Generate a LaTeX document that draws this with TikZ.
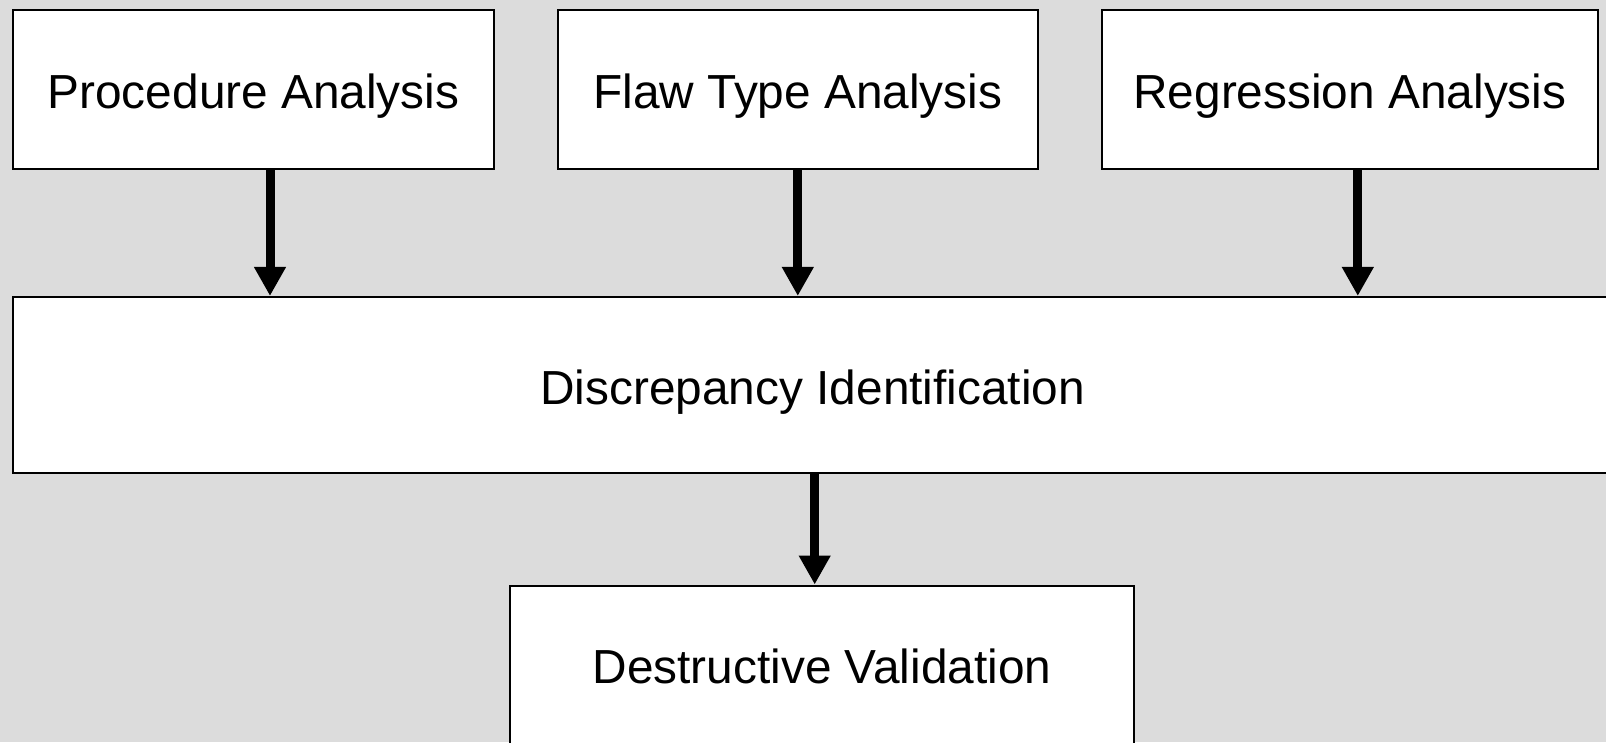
\documentclass[tikz,border=0pt]{standalone}
\usepackage{fontspec}
\setmainfont{Liberation Sans}
\usetikzlibrary{arrows.meta}
\definecolor{bg}{RGB}{220,220,220}
\tikzset{
  box/.style={draw=black, fill=white, line width=2pt, rectangle, inner sep=0pt,
    font=\fontsize{47.8}{56}\selectfont, text height=38.4pt, text depth=0pt},
  flow/.style={line width=9pt, -{Triangle[width=30pt,length=29pt]}}
}
\begin{document}
\begin{tikzpicture}[x=1pt,y=-1pt]
\useasboundingbox (0,0) rectangle (1606,742);
\clip (0,0) rectangle (1606,742);
\fill[bg] (0,0) rectangle (1606,742);
\node[box, minimum width=480.2pt, minimum height=158.8pt] (proc) at (253.5,89.6) {Procedure Analysis};
\node[box, minimum width=479.5pt, minimum height=158.8pt] (flaw) at (797.8,89.6) {Flaw Type Analysis};
\node[box, minimum width=495.8pt, minimum height=158.8pt] (regr) at (1349.9,89.6) {Regression Analysis};
\node[box, minimum width=1598.6pt, minimum height=176.5pt] (disc) at (812.7,385.2) {Discrepancy Identification};
\node[box, minimum width=624pt, minimum height=158pt] (dest) at (822,664.5) {Destructive Validation};
\coordinate (a1) at (270,0);
\coordinate (a2) at (797.8,0);
\coordinate (a3) at (1357.8,0);
\coordinate (a4) at (814.7,0);
\draw[flow] (proc.south -| a1) -- (disc.north -| a1);
\draw[flow] (flaw.south -| a2) -- (disc.north -| a2);
\draw[flow] (regr.south -| a3) -- (disc.north -| a3);
\draw[flow] (disc.south -| a4) -- (dest.north -| a4);
\end{tikzpicture}
\end{document}
